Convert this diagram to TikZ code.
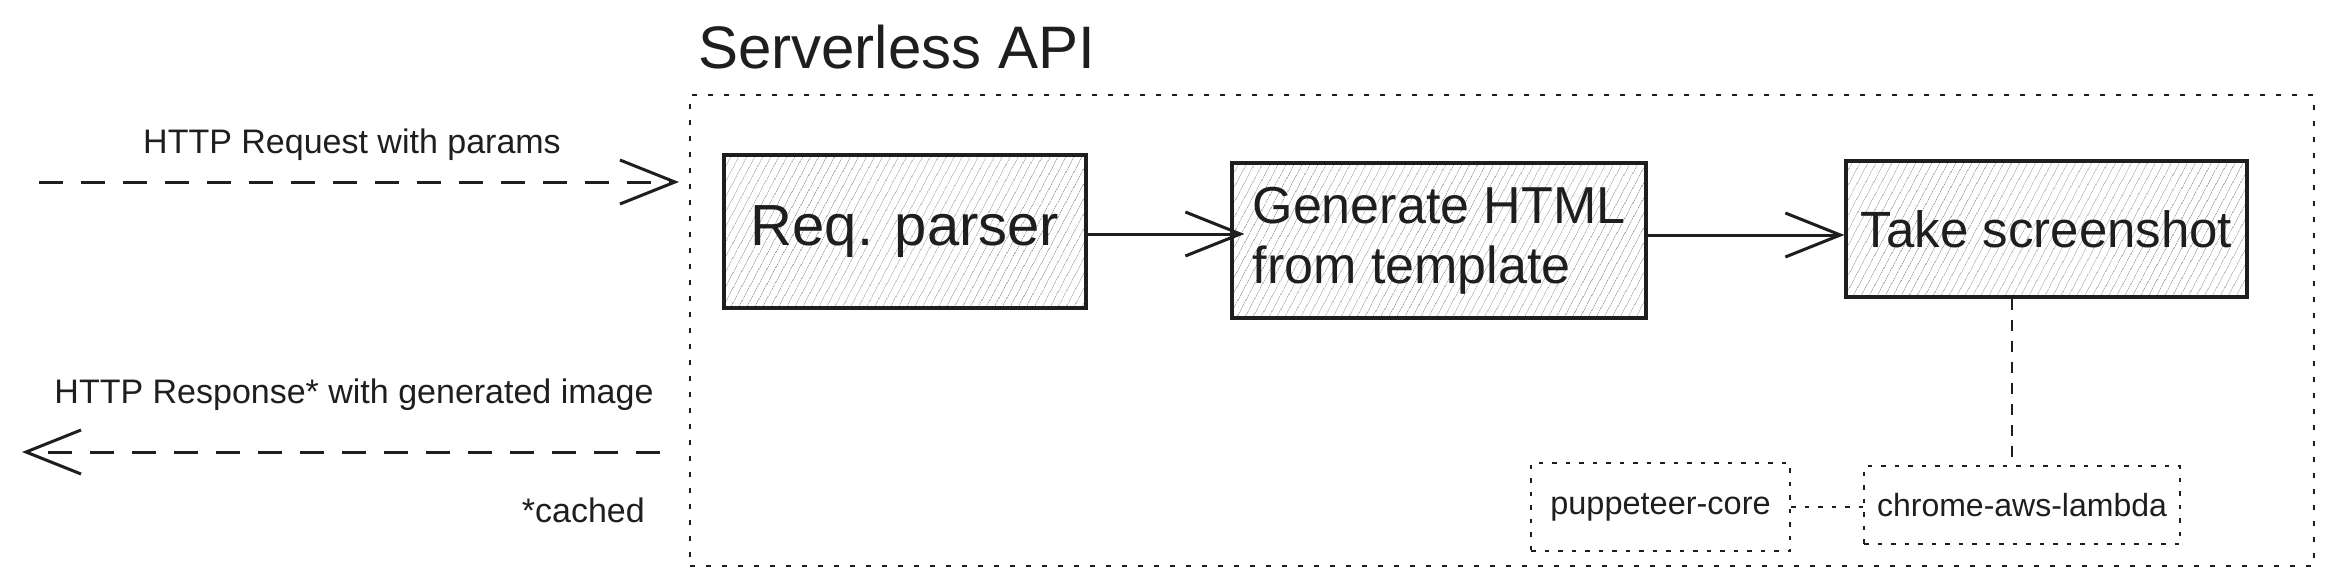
\documentclass[tikz,border=0pt]{standalone}
\usepackage{fontspec}
\setmainfont{Liberation Sans}
\usetikzlibrary{arrows.meta,patterns.meta}
\definecolor{ink}{HTML}{1E1E1E}
\begin{document}
\begin{tikzpicture}[x=1pt,y=-1pt,
  every node/.style={text=ink},
  hatchbox/.style={draw=ink, line width=3.2pt, inner sep=0pt,
    pattern={Lines[angle=62,distance=6.5pt,line width=0.7pt]}, pattern color=black!38},
  outerbox/.style={draw=ink, line width=2.8pt, dash pattern=on 5pt off 11pt},
  libbox/.style={draw=ink, line width=2.6pt, dash pattern=on 4.5pt off 9pt, inner sep=0pt},
  flowarrow/.style={draw=ink, line width=3pt, -{Straight Barb[length=55pt,width=44pt,line width=3pt]}},
  httparrow/.style={draw=ink, line width=3pt, dash pattern=on 24pt off 18pt, -{Straight Barb[length=55pt,width=44pt,line width=3pt]}},
  linkline/.style={draw=ink, line width=2.6pt, dash pattern=on 11pt off 10pt},
  dotlink/.style={draw=ink, line width=2.6pt, dash pattern=on 4.5pt off 9pt},
  lbl/.style={font=\fontsize{34}{40}\selectfont, inner sep=0pt}
]
\useasboundingbox (0,0) rectangle (2335,584);

% outer serverless container
\node[outerbox, minimum width=1624pt, minimum height=471pt] (outer) at (1502,330.5) {};
\node[font=\fontsize{60}{68}\selectfont, anchor=base west, inner sep=0pt] (title) at (698,68) {Serverless API};

% main boxes
\node[hatchbox, minimum width=362pt, minimum height=153pt, font=\fontsize{58}{66}\selectfont] (req) at (905,231.5) {Req. parser};
\node[hatchbox, minimum width=414pt, minimum height=155pt, font=\fontsize{52}{60}\selectfont, align=left] (gen) at (1439,240.5) {Generate HTML\\from template};
\node[hatchbox, minimum width=401pt, minimum height=136pt, font=\fontsize{51}{60}\selectfont] (take) at (2046.5,229) {Take screenshot};

% library boxes
\node[libbox, minimum width=259pt, minimum height=88pt, font=\fontsize{32.5}{38}\selectfont] (pup) at (1660.5,507) {puppeteer-core};
\node[libbox, minimum width=316pt, minimum height=78pt, font=\fontsize{32}{38}\selectfont] (chrome) at (2022,505) {chrome-aws-lambda};

% flow arrows
\draw[flowarrow] (req.east |- 0,234) -- ([xshift=14pt]gen.west |- 0,234);
\draw[flowarrow] (gen.east |- 0,235) -- (take.west |- 0,235);

% links
\draw[linkline] (take.south -| 2012,0) -- (chrome.north -| 2012,0);
\draw[dotlink] (pup.east) -- (pup.east -| chrome.west);

% HTTP arrows
\coordinate (reqin) at (39,182);
\coordinate (reqend) at (679,182);
\coordinate (respstart) at (660,452);
\coordinate (respend) at (22,452);
\draw[httparrow] (reqin) -- (reqend);
\draw[httparrow] (respstart) -- (respend);

\node[lbl, anchor=base] (reqlbl) at (352,153) {HTTP Request with params};
\node[lbl, anchor=base] (resplbl) at (354,403) {HTTP Response* with generated image};
\node[lbl, anchor=base east] (cached) at (645,522) {*cached};
\end{tikzpicture}
\end{document}
